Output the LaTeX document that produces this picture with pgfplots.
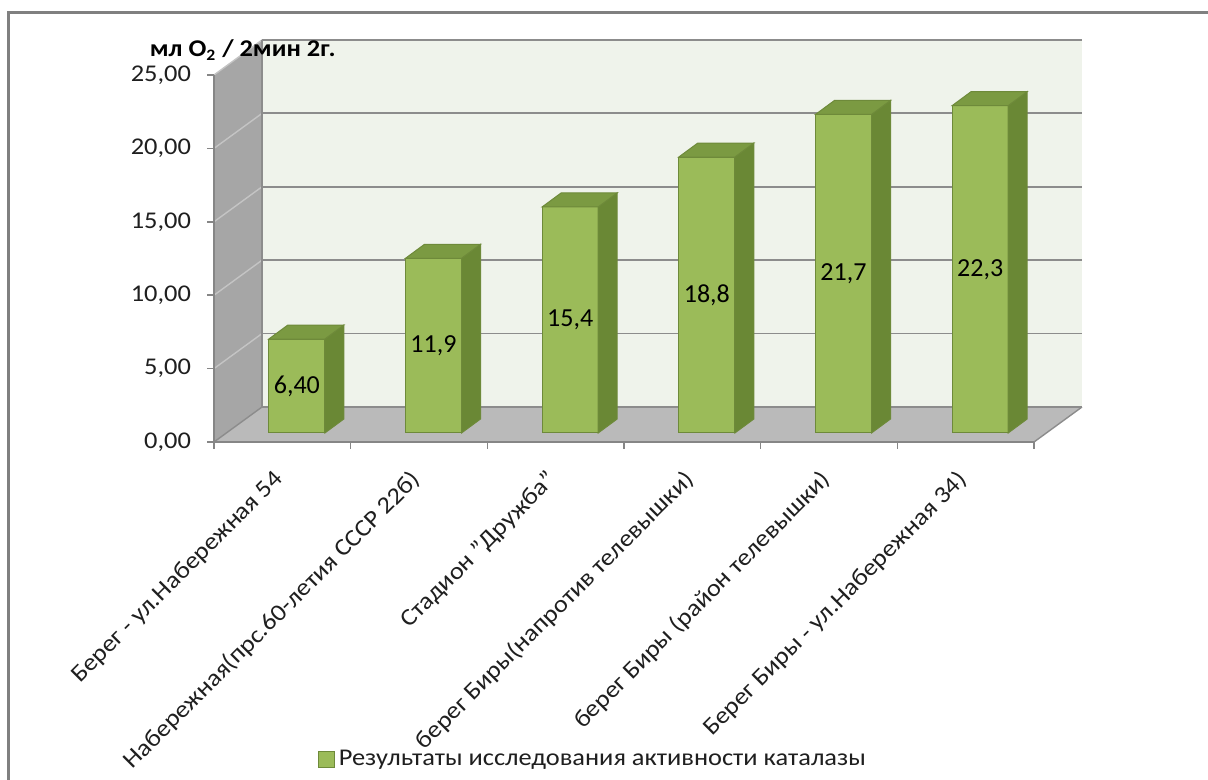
\documentclass[border=0pt]{standalone}
\usepackage{fontspec}
\setmainfont{Carlito}[FakeStretch=1.1]
\newfontfamily\numfont{Carlito}
\usepackage{pgfplots}
\usepackage{pgfplotstable}
\pgfplotsset{compat=1.18}

\definecolor{framegray}{HTML}{808080}
\definecolor{leftwall}{HTML}{A6A6A6}
\definecolor{backwall}{HTML}{EFF3EB}
\definecolor{floorgray}{HTML}{BABABA}
\definecolor{gridgray}{HTML}{8C8C8C}
\definecolor{lightgrid}{HTML}{C4C4C4}
\definecolor{axisgray}{HTML}{868686}
\definecolor{barfront}{HTML}{9BBB59}
\definecolor{barside}{HTML}{6A8835}
\definecolor{bartop}{HTML}{7B9A42}
\definecolor{baredge}{HTML}{6E8A3A}
\definecolor{textgray}{HTML}{1F1F1F}

\pgfplotstableread{
x v lab
0 6.40 {6,40}
1 11.9 {11,9}
2 15.4 {15,4}
3 18.8 {18,8}
4 21.7 {21,7}
5 22.3 {22,3}
}\datatable

\newcommand\lblfont{\fontsize{12}{14}\selectfont}

\begin{document}
\begin{tikzpicture}
\useasboundingbox (0pt,0pt) rectangle (604pt,390pt);
\fill[white] (0pt,0pt) rectangle (604pt,390pt);
\draw[framegray, line width=1.5pt, line cap=butt] (4pt,0pt) -- (4pt,383.5pt) -- (604pt,383.5pt);

% ---- walls, floor and category labels
\begin{axis}[at={(107pt,169pt)}, anchor=south west, scale only axis,
  width=410pt, height=183.5pt, xmin=-0.5, xmax=5.5, ymin=0, ymax=25,
  clip=false, axis x line*=bottom, axis y line=none,
  axis line style={draw=none}, ytick=\empty,
  xtick={0,...,5},
  xticklabels={{Берег - ул.Набережная 54},{Набережная(прс.60-летия СССР 22б)},{Стадион "Дружба"},{берег Биры(напротив телевышки)},{берег Биры (район телевышки)},{Берег Биры - ул.Набережная 34)}},
  xtick style={draw=none},
  xticklabel style={xshift=-5pt, yshift=-13pt, rotate=45, anchor=north east, font=\lblfont, text=textgray, inner sep=0pt}]
\fill[leftwall] (axis cs:-0.5,0) -- (axis cs:-0.5,25) -- (axis cs:-0.1488,27.384) -- (axis cs:-0.1488,2.384) -- cycle;
\fill[backwall] (axis cs:-0.1488,2.384) rectangle (axis cs:5.8512,27.384);
\fill[floorgray] (axis cs:-0.5,0) -- (axis cs:5.5,0) -- (axis cs:5.8512,2.384) -- (axis cs:-0.1488,2.384) -- cycle;
\pgfplotsinvokeforeach{2.384,7.384,12.384,17.384,22.384,27.384}{%
  \draw[gridgray, line width=0.9pt] (axis cs:-0.1488,#1) -- (axis cs:5.8512,#1);}
\draw[lightgrid, line width=0.7pt] (axis cs:-0.5,5) -- (axis cs:-0.1488,7.384);
\draw[lightgrid, line width=0.7pt] (axis cs:-0.5,10) -- (axis cs:-0.1488,12.384);
\draw[lightgrid, line width=0.7pt] (axis cs:-0.5,15) -- (axis cs:-0.1488,17.384);
\draw[lightgrid, line width=0.7pt] (axis cs:-0.5,20) -- (axis cs:-0.1488,22.384);
\draw[lightgrid, line width=0.7pt] (axis cs:-0.5,25) -- (axis cs:-0.1488,27.384);
\draw[gridgray, line width=0.7pt] (axis cs:-0.5,0) -- (axis cs:-0.1488,2.384);
\draw[gridgray, line width=0.7pt] (axis cs:5.5,0) -- (axis cs:5.8512,2.384);
\draw[gridgray, line width=0.7pt] (axis cs:-0.1488,2.384) -- (axis cs:-0.1488,27.384);
\end{axis}

% ---- front axis lines, ticks, y labels, unit title
\begin{axis}[at={(107pt,169pt)}, anchor=south west, scale only axis,
  width=410pt, height=183.5pt, xmin=-0.5, xmax=5.5, ymin=0, ymax=25,
  clip=false, axis x line*=bottom, axis y line*=left,
  axis line style={draw=axisgray, line width=0.8pt},
  xtick={-0.5,0.5,...,5.5}, xticklabels=\empty,
  ytick={0,5,...,25}, tick align=outside, major tick length=3.5pt,
  tick style={draw=axisgray, line width=0.8pt},
  yticklabel style={font=\lblfont, text=textgray, xshift=-4.5pt,
    /pgf/number format/fixed, /pgf/number format/fixed zerofill,
    /pgf/number format/precision=2, /pgf/number format/use comma,
    /pgf/number format/assume math mode=true},
  title={\textbf{мл O\textsubscript{2} / 2мин 2г.}},
  title style={at={(axis description cs:0.035,1.068)}, anchor=center, yshift=-6pt, font=\lblfont, text=black}]
\end{axis}

% ---- bars
\begin{axis}[at={(114.25pt,173.5pt)}, anchor=south west, scale only axis,
  width=410pt, height=183.5pt, xmin=-0.5, xmax=5.5, ymin=0, ymax=25,
  clip=false, hide axis,
  legend style={at={(axis description cs:0.4457,-0.8896)}, anchor=center, draw=none, fill=none, font=\lblfont, text=textgray, legend cell align=left}]
\addplot[ybar, bar width=28pt, bar shift=0pt, fill=barfront, draw=baredge, line width=0.5pt,
  legend image code/.code={\draw[fill=barfront, draw=baredge, line width=0.5pt] (0pt,-3.9pt) rectangle (7.8pt,3.9pt);}]
  table[x=x, y=v] {\datatable};
\addlegendentry{Результаты исследования активности каталазы}
\pgfplotsinvokeforeach{0,...,5}{%
  \pgfplotstablegetelem{#1}{v}\of\datatable
  \pgfmathsetmacro\vv{\pgfplotsretval}%
  \pgfmathsetmacro\vt{\vv+0.954}%
  \pgfmathsetmacro\xl{#1-0.205}%
  \pgfmathsetmacro\xr{#1+0.205}%
  \pgfmathsetmacro\xlb{#1-0.066}%
  \pgfmathsetmacro\xrb{#1+0.344}%
  \edef\barfaces{%
    \noexpand\fill[barside, draw=baredge, line width=0.5pt] (axis cs:\xr,0) -- (axis cs:\xrb,0.954) -- (axis cs:\xrb,\vt) -- (axis cs:\xr,\vv) -- cycle;
    \noexpand\fill[bartop, draw=baredge, line width=0.5pt] (axis cs:\xl,\vv) -- (axis cs:\xr,\vv) -- (axis cs:\xrb,\vt) -- (axis cs:\xlb,\vt) -- cycle;}%
  \barfaces
}
\addplot[forget plot, draw=none, mark=none, nodes near coords, point meta=explicit symbolic,
  every node near coord/.append style={anchor=center, font=\numfont\fontsize{13}{15}\selectfont, text=black}]
  table[x=x, y expr=\thisrow{v}/2, meta=lab] {\datatable};
\end{axis}
\end{tikzpicture}
\end{document}
